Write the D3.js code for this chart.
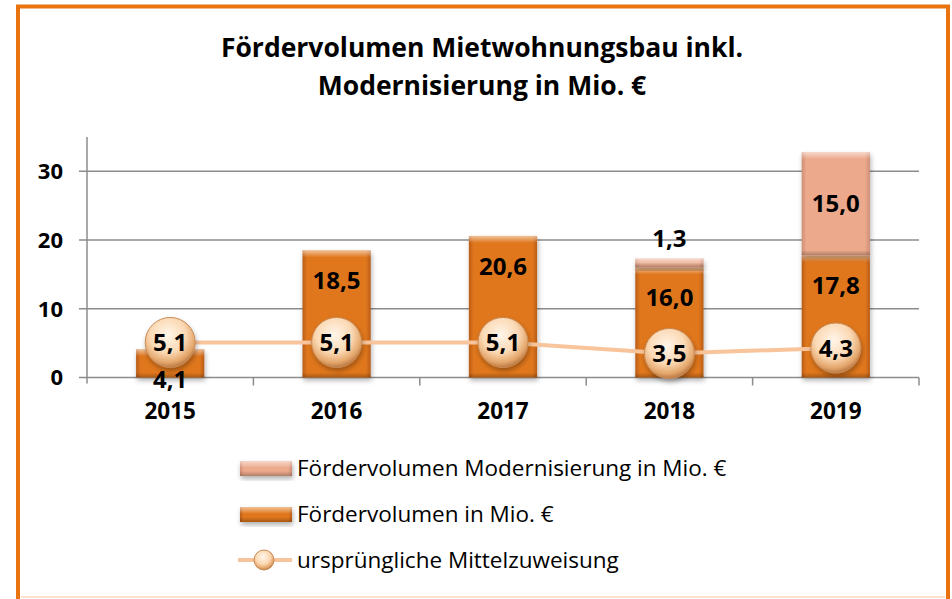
<!DOCTYPE html>
<html>
<head>
<meta charset="utf-8">
<script src="https://cdn.jsdelivr.net/npm/d3@7"></script>
<style>
  html, body { margin: 0; padding: 0; background: #fff; }
  svg { display: block; }
</style>
</head>
<body>
<div id="chart"></div>
<script>
// chart data
const years = ["2015", "2016", "2017", "2018", "2019"];
const foerder = [4.1, 18.5, 20.6, 16.0, 17.8];
const modern = [null, null, null, 1.3, 15.0];
const mittel = [5.1, 5.1, 5.1, 3.5, 4.3];
const yTicks = [0, 10, 20, 30];
const legendLabels = [
    "Fördervolumen Modernisierung in Mio. €",
    "Fördervolumen in Mio. €",
    "ursprüngliche Mittelzuweisung"
];

const width = 952;
const height = 599;
const fmt = v => v.toFixed(1).replace(".", ",");

const svg = d3.select("#chart")
    .append("svg")
    .attr("width", width)
    .attr("height", height)
    .style("font-family", "'Open Sans', 'Noto Sans', sans-serif");

const defs = svg.append("defs");

// side shading for bars (darker edges)
function hGrad(id, edge, mid) {
    const g = defs.append("linearGradient").attr("id", id)
        .attr("x1", "0%").attr("x2", "100%").attr("y1", "0%").attr("y2", "0%");
    [[0, edge], [7, mid], [93, mid], [100, edge]].forEach(s =>
        g.append("stop").attr("offset", s[0] + "%").attr("stop-color", s[1]));
}
hGrad("gradMain", "#b95c16", "#e0771f");
hGrad("gradMod", "#cf8d74", "#eca98c");

const topShine = defs.append("linearGradient").attr("id", "topShine")
    .attr("x1", "0%").attr("x2", "0%").attr("y1", "0%").attr("y2", "100%");
topShine.append("stop").attr("offset", "0%").attr("stop-color", "#fff").attr("stop-opacity", 0.55);
topShine.append("stop").attr("offset", "100%").attr("stop-color", "#fff").attr("stop-opacity", 0);

const botShade = defs.append("linearGradient").attr("id", "botShade")
    .attr("x1", "0%").attr("x2", "0%").attr("y1", "0%").attr("y2", "100%");
botShade.append("stop").attr("offset", "0%").attr("stop-color", "#000").attr("stop-opacity", 0);
botShade.append("stop").attr("offset", "100%").attr("stop-color", "#000").attr("stop-opacity", 0.25);

const ball = defs.append("radialGradient").attr("id", "ball")
    .attr("cx", "45%").attr("cy", "35%").attr("r", "65%");
ball.append("stop").attr("offset", "0%").attr("stop-color", "#fff6ea");
ball.append("stop").attr("offset", "55%").attr("stop-color", "#fbd9b4");
ball.append("stop").attr("offset", "85%").attr("stop-color", "#e4a66b");
ball.append("stop").attr("offset", "100%").attr("stop-color", "#b97a45");

const shadow = defs.append("filter").attr("id", "shadow")
    .attr("x", "-20%").attr("y", "-20%").attr("width", "140%").attr("height", "150%");
shadow.append("feDropShadow").attr("dx", 1).attr("dy", 3).attr("stdDeviation", 2.5)
    .attr("flood-color", "#000").attr("flood-opacity", 0.3);

// frame
svg.append("rect")
    .attr("x", 18).attr("y", 6.5)
    .attr("width", 930).attr("height", 610)
    .attr("fill", "none")
    .attr("stroke", "#e8730f")
    .attr("stroke-width", 4);
svg.append("line")
    .attr("x1", 21).attr("x2", 945).attr("y1", 597).attr("y2", 597)
    .attr("stroke", "#fbe3cf").attr("stroke-width", 2);

// title
svg.append("text")
    .attr("x", 482).attr("y", 57)
    .attr("text-anchor", "middle")
    .attr("font-weight", "bold")
    .attr("font-size", 26.5)
    .selectAll("tspan")
    .data(["Fördervolumen Mietwohnungsbau inkl.", "Modernisierung in Mio. €"])
    .enter().append("tspan")
    .attr("x", 482)
    .attr("dy", (d, i) => i === 0 ? 0 : 38)
    .text(d => d);

const margin = { left: 87, right: 33, top: 137, bottom: 221.5 };
const x = d3.scaleBand()
    .domain(years)
    .range([margin.left, width - margin.right])
    .paddingInner(0.59)
    .paddingOuter(0.295);
const y = d3.scaleLinear()
    .domain([0, 35])
    .range([height - margin.bottom, margin.top]);

const grid = svg.append("g");
grid.selectAll("line")
    .data(yTicks)
    .enter().append("line")
    .attr("x1", margin.left - 8)
    .attr("x2", width - margin.right)
    .attr("y1", d => y(d))
    .attr("y2", d => y(d))
    .attr("stroke", "#8c8c8c")
    .attr("stroke-width", 1.5);

// y axis line
svg.append("line")
    .attr("x1", margin.left).attr("x2", margin.left)
    .attr("y1", y(35)).attr("y2", y(0) + 6)
    .attr("stroke", "#8c8c8c").attr("stroke-width", 1.5);

// category tick marks
const bandStep = x.step();
svg.append("g").selectAll("line")
    .data(years.slice(1).concat(["end"]))
    .enter().append("line")
    .attr("x1", (d, i) => margin.left + bandStep * (i + 1))
    .attr("x2", (d, i) => margin.left + bandStep * (i + 1))
    .attr("y1", y(0)).attr("y2", y(0) + 8)
    .attr("stroke", "#8c8c8c").attr("stroke-width", 1.5);

svg.append("g").selectAll("text")
    .data(yTicks)
    .enter().append("text")
    .attr("x", 63)
    .attr("y", d => y(d))
    .attr("dy", "0.36em")
    .attr("text-anchor", "end")
    .attr("font-weight", "bold")
    .attr("font-size", 22)
    .text(d => d);

svg.append("g").selectAll("text")
    .data(years)
    .enter().append("text")
    .attr("x", d => x(d) + x.bandwidth() / 2)
    .attr("y", 411)
    .attr("dy", "0.36em")
    .attr("text-anchor", "middle")
    .attr("font-weight", "bold")
    .attr("font-size", 22.5)
    .text(d => d);

function bevelBar(g, bx, by, bw, bh, fillId) {
    g.append("rect").attr("x", bx).attr("y", by).attr("width", bw).attr("height", bh)
        .attr("fill", `url(#${fillId})`).attr("filter", "url(#shadow)");
    g.append("rect").attr("x", bx).attr("y", by).attr("width", bw).attr("height", Math.min(7, bh))
        .attr("fill", "url(#topShine)");
    g.append("rect").attr("x", bx).attr("y", by + bh - Math.min(5, bh)).attr("width", bw).attr("height", Math.min(5, bh))
        .attr("fill", "url(#botShade)");
}

// bars
const bars = svg.append("g");
years.forEach((yr, i) => {
    const bx = x(yr);
    const bw = x.bandwidth();
    bevelBar(bars, bx, y(foerder[i]), bw, y(0) - y(foerder[i]), "gradMain");
    if (modern[i] != null) {
        const top = foerder[i] + modern[i];
        bevelBar(bars, bx, y(top), bw, y(foerder[i]) - y(top), "gradMod");
    }
});

// bar labels
const labels = svg.append("g")
    .attr("font-weight", "bold")
    .attr("font-size", 24)
    .attr("text-anchor", "middle");
years.forEach((yr, i) => {
    const cx = x(yr) + x.bandwidth() / 2;
    labels.append("text")
        .attr("x", cx)
        .attr("y", y(foerder[i]) + 30)
        .attr("dy", "0.36em")
        .text(fmt(foerder[i]));
    if (modern[i] != null) {
        const top = foerder[i] + modern[i];
        const small = modern[i] < 3;
        labels.append("text")
            .attr("x", cx)
            .attr("y", small ? y(top) - 20 : (y(top) + y(foerder[i])) / 2)
            .attr("dy", "0.36em")
            .text(fmt(modern[i]));
    }
});

// line series
const line = d3.line()
    .x((d, i) => x(years[i]) + x.bandwidth() / 2)
    .y(d => y(d));
svg.append("path")
    .datum(mittel)
    .attr("d", line)
    .attr("fill", "none")
    .attr("stroke", "#f8c49b")
    .attr("stroke-width", 4);

const markers = svg.append("g");
mittel.forEach((v, i) => {
    const cx = x(years[i]) + x.bandwidth() / 2;
    markers.append("circle")
        .attr("cx", cx).attr("cy", y(v)).attr("r", 25)
        .attr("fill", "url(#ball)")
        .attr("stroke", "#c98a55").attr("stroke-width", 1)
        .attr("filter", "url(#shadow)");
    markers.append("text")
        .attr("x", cx).attr("y", y(v))
        .attr("dy", "0.36em")
        .attr("text-anchor", "middle")
        .attr("font-weight", "bold")
        .attr("font-size", 24)
        .text(fmt(v));
});

// legend
const legend = svg.append("g");
const legY = [468, 514, 560];
legendLabels.forEach((lab, i) => {
    const ly = legY[i];
    if (i < 2) {
        bevelBar(legend, 240, ly - 7, 52, 15, i === 0 ? "gradMod" : "gradMain");
    } else {
        legend.append("line")
            .attr("x1", 238).attr("x2", 292).attr("y1", ly).attr("y2", ly)
            .attr("stroke", "#f8c49b").attr("stroke-width", 4);
        legend.append("circle")
            .attr("cx", 264).attr("cy", ly).attr("r", 10)
            .attr("fill", "url(#ball)")
            .attr("stroke", "#c98a55").attr("stroke-width", 1);
    }
    legend.append("text")
        .attr("x", 297).attr("y", ly)
        .attr("dy", "0.36em")
        .attr("font-size", 22.5)
        .text(lab);
});
</script>
</body>
</html>
